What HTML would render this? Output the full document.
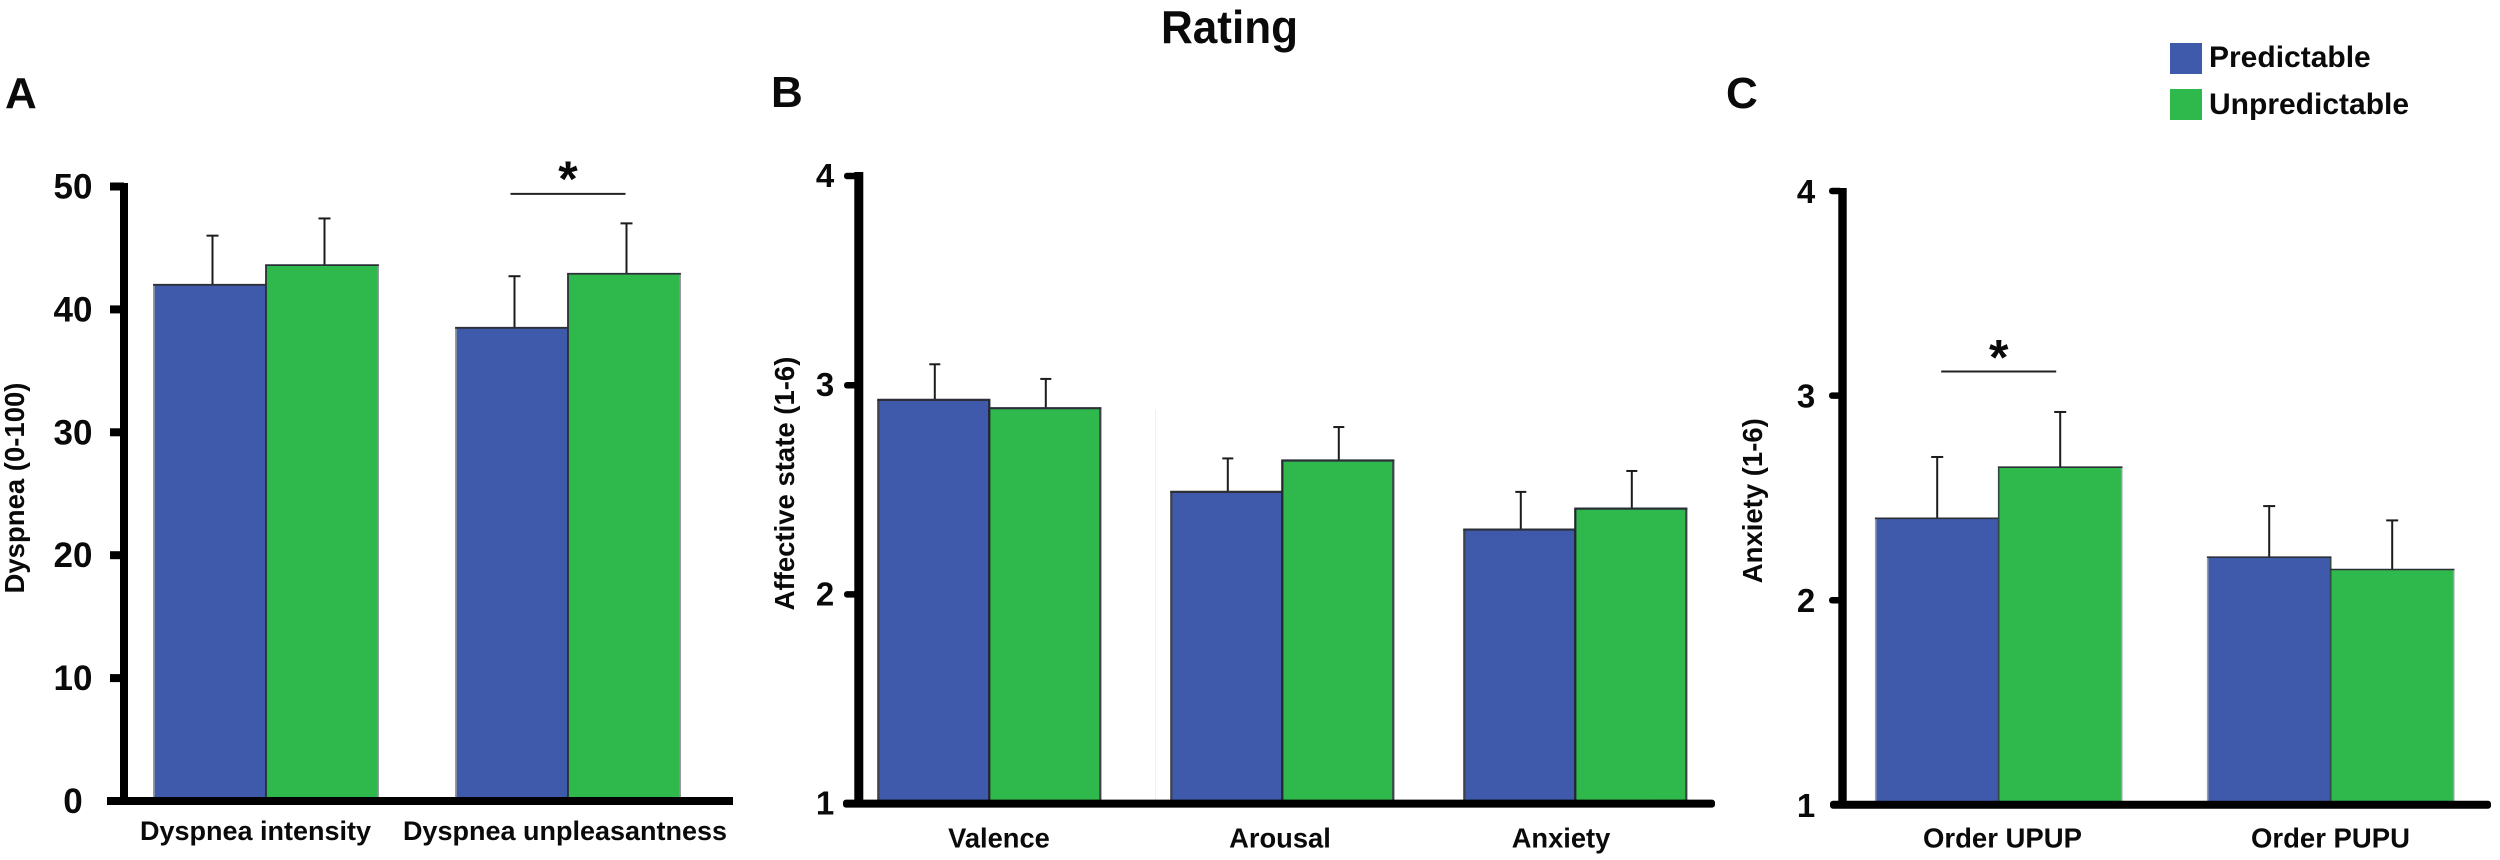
<!DOCTYPE html>
<html lang="en">
<head>
<meta charset="utf-8">
<title>Rating</title>
<style>
html,body{margin:0;padding:0;background:#fff;width:2500px;height:860px;overflow:hidden}
svg{display:block}
text{font-family:"Liberation Sans",sans-serif;font-weight:bold;fill:#0a0a0a}
</style>
</head>
<body>
<svg id="figure" xmlns="http://www.w3.org/2000/svg" width="2500" height="860" viewBox="0 0 2500 860">
  <text x="1161" y="43" font-size="46" textLength="137" lengthAdjust="spacingAndGlyphs">Rating</text>
  <text x="5" y="108" font-size="44">A</text>
  <text x="771" y="107" font-size="44">B</text>
  <text x="1726" y="108" font-size="44">C</text>
  <g>
    <rect x="2170" y="43" width="32" height="31" fill="#3f5aab"/>
    <text x="2209" y="67" font-size="30">Predictable</text>
    <rect x="2170" y="89" width="32" height="31" fill="#2fb84b"/>
    <text x="2209" y="114" font-size="30">Unpredictable</text>
  </g>
  <line x1="1155.5" x2="1155.5" y1="410" y2="800" stroke="#f0f0f0" stroke-width="1"/>
</svg>
<script>
// Panel A data
const aCategories = ["Dyspnea intensity", "Dyspnea unpleasantness"];
const aPredictable = [42.0, 38.5];
const aUnpredictable = [43.6, 42.9];
const aPredictableErrorTop = [46.0, 42.7];
const aUnpredictableErrorTop = [47.4, 47.0];
const aTicks = [0, 10, 20, 30, 40, 50];
const aTickLabels = ["0", "10", "20", "30", "40", "50"];

// Panel B data
const bCategories = ["Valence", "Arousal", "Anxiety"];
const bPredictable = [2.93, 2.49, 2.31];
const bUnpredictable = [2.89, 2.64, 2.41];
const bPredictableErrorTop = [3.10, 2.65, 2.49];
const bUnpredictableErrorTop = [3.03, 2.80, 2.59];
const bTicks = [1, 2, 3, 4];
const bTickLabels = ["1", "2", "3", "4"];

// Panel C data
const cCategories = ["Order UPUP", "Order PUPU"];
const cPredictable = [2.40, 2.21];
const cUnpredictable = [2.65, 2.15];
const cPredictableErrorTop = [2.70, 2.46];
const cUnpredictableErrorTop = [2.92, 2.39];
const cTicks = [1, 2, 3, 4];
const cTickLabels = ["1", "2", "3", "4"];

const panels = [
  {id: "a", categories: aCategories, pred: aPredictable, unpred: aUnpredictable, predErr: aPredictableErrorTop, unpredErr: aUnpredictableErrorTop, ticks: aTicks, tickLabels: aTickLabels,
   title: "Dyspnea (0-100)", titleX: 24, titleY: 488,
   baseValue: 0, baseY: 801, unit: 12.29, axisX: 124, axisW: 8, axisTop: 183, xEnd: 733, xStart: 107, tickLeft: 110, tickH: 8, tickRound: 0,
   tickFont: 35, tickLabelX: 73, tickLabelDy: 12,
   groupX0: 154, groupStep: 302, barW: 112, errOffset: 2.5, capHalf: 6,
   edgeDark: "#2a2f38", edgeOuter: "#8a8f98", edgeW: 1.8,
   labelX0: 255.5, labelStep: 309.5, labelY: 840, labelFont: 27,
   sigGroup: 1, sigValue: 49.4, sigHalf: 57.5, starDy: 2},
  {id: "b", categories: bCategories, pred: bPredictable, unpred: bUnpredictable, predErr: bPredictableErrorTop, unpredErr: bUnpredictableErrorTop, ticks: bTicks, tickLabels: bTickLabels,
   title: "Affective state (1-6)", titleX: 794, titleY: 483.5,
   baseValue: 1, baseY: 803.6, unit: 209.2, axisX: 858.8, axisW: 9, axisTop: 172, xEnd: 1715, xStart: 843, tickLeft: 844, tickH: 6.5, tickRound: 3,
   tickFont: 33, tickLabelX: 825, tickLabelDy: 11,
   groupX0: 878.3, groupStep: 293, barW: 111, errOffset: 1, capHalf: 5.5,
   edgeDark: "#22262d", edgeOuter: "#3c4047", edgeW: 2.2,
   labelX0: 999, labelStep: 281, labelY: 847.5, labelFont: 27.3,
   sigGroup: -1},
  {id: "c", categories: cCategories, pred: cPredictable, unpred: cUnpredictable, predErr: cPredictableErrorTop, unpredErr: cUnpredictableErrorTop, ticks: cTicks, tickLabels: cTickLabels,
   title: "Anxiety (1-6)", titleX: 1762, titleY: 500.7,
   baseValue: 1, baseY: 804.8, unit: 204.6, axisX: 1842.5, axisW: 8.4, axisTop: 188, xEnd: 2491, xStart: 1830, tickLeft: 1829, tickH: 6.5, tickRound: 3,
   tickFont: 33, tickLabelX: 1806, tickLabelDy: 12,
   groupX0: 1875.7, groupStep: 332, barW: 123, errOffset: 0, capHalf: 6,
   edgeDark: "#2f4a44", edgeOuter: "#9a9ea4", edgeW: 1.6,
   labelX0: 2002.5, labelStep: 328, labelY: 847.5, labelFont: 27.5,
   sigGroup: 0, sigValue: 3.118, sigHalf: 57.5, starDy: 3}
];

const SVGNS = "http://www.w3.org/2000/svg";
const figure = document.getElementById("figure");
const BLUE = "#3f5aab";
const GREEN = "#2fb84b";

function mk(parent, tag, attrs, text) {
  const el = document.createElementNS(SVGNS, tag);
  for (const k in attrs) el.setAttribute(k, attrs[k]);
  if (text !== undefined) el.textContent = text;
  parent.appendChild(el);
  return el;
}

function drawBar(g, p, i, series, value, errTop, x) {
  const yScale = v => p.baseY - (v - p.baseValue) * p.unit;
  const top = yScale(value);
  const errX = x + p.barW / 2 + p.errOffset;
  const isPred = series === "predictable";
  const fill = isPred ? BLUE : GREEN;
  const slug = p.categories[i].toLowerCase().replace(/\s+/g, '-');

  const stem = mk(g, "line", {x1: errX, x2: errX, y1: top, y2: yScale(errTop), stroke: "#1c1c1c", "stroke-width": 2});
  
  

  const cap = mk(g, "line", {x1: errX - p.capHalf, x2: errX + p.capHalf, y1: yScale(errTop), y2: yScale(errTop), stroke: "#1c1c1c", "stroke-width": 2});
  
  

  const bar = mk(g, "rect", {x: x, y: top, width: p.barW, height: p.baseY - top, fill: fill});
  
  

  const leftColor = isPred ? p.edgeOuter : p.edgeDark;
  const rightColor = isPred ? p.edgeDark : p.edgeOuter;

  const leftEdge = mk(g, "line", {x1: x, x2: x, y1: top, y2: p.baseY, stroke: leftColor, "stroke-width": p.edgeW});
  
  

  const rightEdge = mk(g, "line", {x1: x + p.barW, x2: x + p.barW, y1: top, y2: p.baseY, stroke: rightColor, "stroke-width": p.edgeW});
  
  

  const topEdge = mk(g, "line", {x1: x - p.edgeW / 2, x2: x + p.barW + p.edgeW / 2, y1: top, y2: top, stroke: "#2a2f38", "stroke-width": p.edgeW});
  
  
}

function drawPanel(p) {
  const g = mk(figure, "g", {});
  
  

  const yScale = v => p.baseY - (v - p.baseValue) * p.unit;
  const groupX = i => p.groupX0 + i * p.groupStep;
  const labelX = i => p.labelX0 + i * p.labelStep;

  // bars and error bars
  p.categories.forEach((cat, i) => {
    drawBar(g, p, i, "predictable", p.pred[i], p.predErr[i], groupX(i));
    drawBar(g, p, i, "unpredictable", p.unpred[i], p.unpredErr[i], groupX(i) + p.barW);

    const lab = mk(g, "text", {x: labelX(i), y: p.labelY, "font-size": p.labelFont, "text-anchor": "middle"}, cat);
    
    
  });

  // y axis
  const yAxis = mk(g, "rect", {x: p.axisX - p.axisW / 2, y: p.axisTop, width: p.axisW, height: p.baseY - p.axisTop, fill: "#000"});
  
  

  // x axis
  const xAxis = mk(g, "rect", {x: p.xStart, y: p.baseY - 4, width: p.xEnd - p.xStart, height: 8, fill: "#000", rx: p.tickRound});
  
  

  // ticks
  p.ticks.forEach((t, i) => {
    if (t !== p.baseValue) {
      const mark = mk(g, "rect", {x: p.tickLeft, y: yScale(t) - p.tickH / 2, width: p.axisX - p.tickLeft, height: p.tickH, fill: "#000", rx: p.tickRound});
      
      
    }
    const lab = mk(g, "text", {x: p.tickLabelX, y: yScale(t) + p.tickLabelDy, "font-size": p.tickFont, "text-anchor": "middle"}, p.tickLabels[i]);
    
    
  });

  // axis title
  const title = mk(g, "text", {x: 0, y: 0, "font-size": 27.5, "text-anchor": "middle", transform: "translate(" + p.titleX + "," + p.titleY + ") rotate(-90)"}, p.title);
  
  

  // significance marker
  if (p.sigGroup >= 0) {
    const cx = groupX(p.sigGroup) + p.barW;
    const sy = yScale(p.sigValue);
    const line = mk(g, "line", {x1: cx - p.sigHalf, x2: cx + p.sigHalf, y1: sy, y2: sy, stroke: "#222", "stroke-width": 2});
    
    
    const star = mk(g, "text", {x: cx, y: sy + p.starDy, "font-size": 50, "text-anchor": "middle"}, "*");
    
    
  }
}

panels.forEach(drawPanel);
</script>
</body>
</html>
